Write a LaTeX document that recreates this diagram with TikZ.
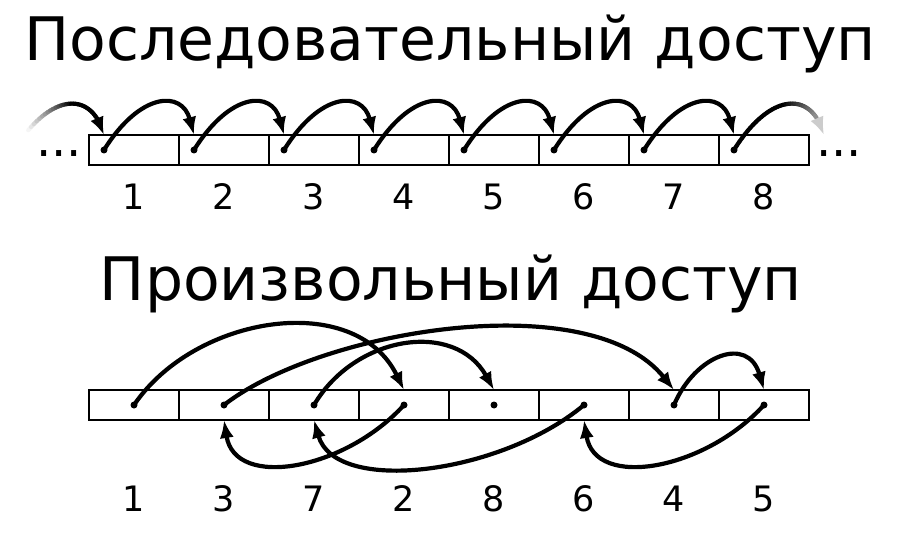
\documentclass[tikz,border=0pt]{standalone}
\usepackage{fontspec}
\setmainfont{DejaVu Sans}
\usetikzlibrary{arrows.meta}
\begin{document}
\begin{tikzpicture}[x=1pt,y=-1pt,
  cellbox/.style={draw, line width=1.8pt, minimum width=90pt, minimum height=30pt, inner sep=0pt, outer sep=0pt},
  arr/.style={line width=4.2pt, -{Latex[length=18pt,width=14pt]}},
  seg/.style={line width=4.2pt, line cap=round},
  titletext/.style={font=\fontsize{60}{70}\selectfont, anchor=base, inner sep=0pt},
  numtext/.style={font=\fontsize{35}{40}\selectfont, anchor=base, inner sep=0pt},
  dotstext/.style={font=\fontsize{48}{50}\selectfont, anchor=base, inner sep=0pt},
  ]
\useasboundingbox[fill=white] (0,0) rectangle (900,540);

% titles
\node[titletext] (title1) at (450,61) {Последовательный доступ};
\node[titletext] (title2) at (451,301) {Произвольный доступ};

% ---------- sequential ----------
\foreach \k in {1,...,8}{
  \node[cellbox] (c\k) at ({44+90*\k},150) {};
  \coordinate (d\k) at ({14+90*\k},150);
  \coordinate (t\k) at ({14+90*\k},135);
  \node[numtext] (n\k) at ({44+90*\k},210) {\k};
}
\coordinate (tr) at (824,135);
\node[dotstext] (ldots) at (59,157) {...};
\node[dotstext] (rdots) at (839,157) {...};

\foreach \k [evaluate=\k as \n using int(\k+1)] in {1,...,7}{
  \draw[arr] (d\k) .. controls +(36,-58) and +(-12,-45) .. (t\n);
}

% fading-in arrow on the left
\foreach \i in {0,...,29}{
  \pgfmathsetmacro\ta{0.13+0.025*\i}
  \pgfmathsetmacro\tb{\ta+0.025}
  \pgfmathsetmacro\xa{(1-\ta)^3*14+3*(1-\ta)^2*\ta*50+3*(1-\ta)*\ta^2*92+\ta^3*104}
  \pgfmathsetmacro\ya{(1-\ta)^3*150+3*(1-\ta)^2*\ta*92+3*(1-\ta)*\ta^2*90+\ta^3*135}
  \pgfmathsetmacro\xb{(1-\tb)^3*14+3*(1-\tb)^2*\tb*50+3*(1-\tb)*\tb^2*92+\tb^3*104}
  \pgfmathsetmacro\yb{(1-\tb)^3*150+3*(1-\tb)^2*\tb*92+3*(1-\tb)*\tb^2*90+\tb^3*135}
  \pgfmathsetmacro\pc{min(100,4+96*(\ta-0.13)/0.4)}
  \draw[seg, color=black!\pc] (\xa,\ya) -- (\xb,\yb);
}
\pgfmathsetmacro\te{0.86}
\pgfmathsetmacro\xe{(1-\te)^3*14+3*(1-\te)^2*\te*50+3*(1-\te)*\te^2*92+\te^3*104}
\pgfmathsetmacro\ye{(1-\te)^3*150+3*(1-\te)^2*\te*92+3*(1-\te)*\te^2*90+\te^3*135}
\coordinate (lstart) at (\xe,\ye);
\draw[arr] (lstart) -- (t1);

% fading-out arrow on the right
\foreach \i in {0,...,33}{
  \pgfmathsetmacro\ta{0.025*\i}
  \pgfmathsetmacro\tb{\ta+0.025}
  \pgfmathsetmacro\xa{(1-\ta)^3*734+3*(1-\ta)^2*\ta*770+3*(1-\ta)*\ta^2*812+\ta^3*824}
  \pgfmathsetmacro\ya{(1-\ta)^3*150+3*(1-\ta)^2*\ta*92+3*(1-\ta)*\ta^2*90+\ta^3*135}
  \pgfmathsetmacro\xb{(1-\tb)^3*734+3*(1-\tb)^2*\tb*770+3*(1-\tb)*\tb^2*812+\tb^3*824}
  \pgfmathsetmacro\yb{(1-\tb)^3*150+3*(1-\tb)^2*\tb*92+3*(1-\tb)*\tb^2*90+\tb^3*135}
  \pgfmathsetmacro\pc{100-82*max(0,(\ta-0.45)/0.55)}
  \draw[seg, color=black!\pc] (\xa,\ya) -- (\xb,\yb);
}
\pgfmathsetmacro\xf{(1-\te)^3*734+3*(1-\te)^2*\te*770+3*(1-\te)*\te^2*812+\te^3*824}
\pgfmathsetmacro\yf{(1-\te)^3*150+3*(1-\te)^2*\te*92+3*(1-\te)*\te^2*90+\te^3*135}
\coordinate (rstart) at (\xf,\yf);
\draw[arr, color=black!20] (rstart) -- (tr);

\foreach \k in {1,...,8}{
  \fill (d\k) circle (3.5);
}

% ---------- random ----------
\foreach \k/\lab in {1/1,2/3,3/7,4/2,5/8,6/6,7/4,8/5}{
  \node[cellbox] (b\k) at ({44+90*\k},405) {};
  \coordinate (e\k) at ({44+90*\k},405);
  \coordinate (u\k) at ({44+90*\k},390);
  \coordinate (w\k) at ({44+90*\k},420);
  \node[numtext] (m\k) at ({44+90*\k},511) {\lab};
}

\draw[arr] (e1) .. controls +(61,-90) and +(-49,-100) .. (u4);
\draw[arr] (e4) .. controls +(-59,65) and +(11,70) .. (w2);
\draw[arr] (e2) .. controls +(96,-75) and +(-84,-105) .. (u7);
\draw[arr] (e7) .. controls +(21,-50) and +(-16,-55) .. (u8);
\draw[arr] (e8) .. controls +(-59,65) and +(11,70) .. (w6);
\draw[arr] (e6) .. controls +(-84,70) and +(21,75) .. (w3);
\draw[arr] (e3) .. controls +(41,-70) and +(-39,-70) .. (u5);

\foreach \k in {1,...,8}{
  \fill (e\k) circle (3.5);
}
\end{tikzpicture}
\end{document}
